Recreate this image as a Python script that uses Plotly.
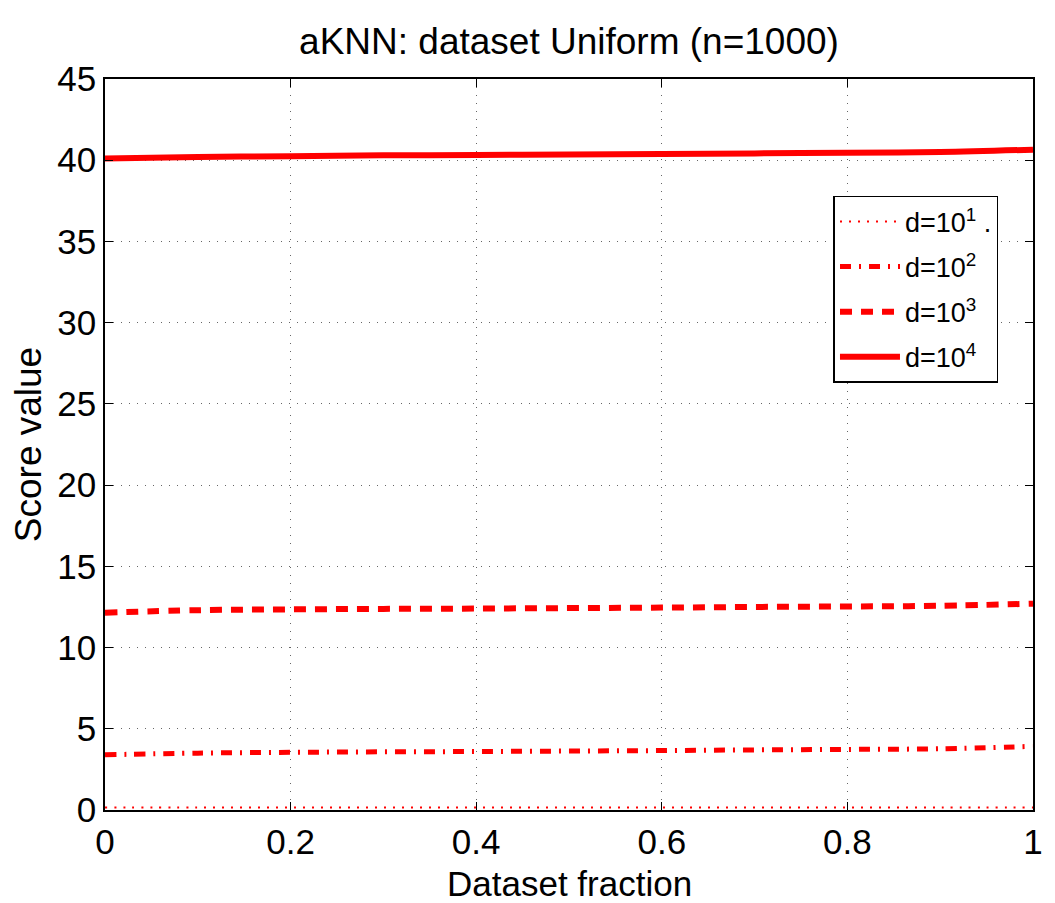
import plotly.graph_objects as go

x = [0.0, 0.1, 0.2, 0.3, 0.4, 0.5, 0.6, 0.7, 0.8, 0.9, 1.0]
d1 = [0.15, 0.15, 0.15, 0.15, 0.15, 0.15, 0.15, 0.15, 0.15, 0.15, 0.16]
d2 = [3.4, 3.5, 3.55, 3.58, 3.6, 3.63, 3.66, 3.7, 3.73, 3.77, 3.92]
d3 = [12.15, 12.3, 12.35, 12.38, 12.4, 12.43, 12.46, 12.5, 12.53, 12.57, 12.7]
d4 = [40.1, 40.2, 40.25, 40.3, 40.32, 40.35, 40.38, 40.42, 40.46, 40.5, 40.65]

names = ["d=10<sup>1</sup> .", "d=10<sup>2</sup>", "d=10<sup>3</sup>", "d=10<sup>4</sup>"]
series = [d1, d2, d3, d4]
styles = [
    dict(width=2, dash="2px,7px"),
    dict(width=5, dash="11px,8px,2px,8px"),
    dict(width=6, dash="12px,9px"),
    dict(width=6, dash="solid"),
]

fig = go.Figure()
for i, (n, s, st) in enumerate(zip(names, series, styles)):
    fig.add_trace(go.Scatter(x=x, y=s, mode="lines", name=n, legendgroup=f"g{i}",
                             line=dict(color="#ff0000", shape="spline", **st)))

font = "Liberation Sans, Arial, Helvetica, sans-serif"
axis_common = dict(
    showline=True, linecolor="black", linewidth=1.5, mirror="ticks",
    ticks="inside", ticklen=8, tickcolor="black", tickwidth=1.2,
    showgrid=True, gridcolor="#666666", griddash="1px,7px", gridwidth=1,
    zeroline=False, tickfont=dict(size=35, color="black", family=font),
)

fig.update_layout(
    width=1055, height=903,
    paper_bgcolor="white", plot_bgcolor="white",
    margin=dict(l=105, r=20, t=79, b=93),
    title=dict(text="aKNN: dataset Uniform (n=1000)", x=0.5, xref="paper", xanchor="center",
               y=0.955, yanchor="middle", font=dict(size=37, color="black", family=font)),
    xaxis=dict(range=[0, 1], dtick=0.2, tick0=0, **axis_common),
    yaxis=dict(range=[0, 45], dtick=5, tick0=0,
               title=dict(text="Score value", font=dict(size=37, color="black", family=font), standoff=4),
               **axis_common),
    legend=dict(x=0.785, y=0.84, xanchor="left", yanchor="top",
                bgcolor="white", bordercolor="black", borderwidth=1.5,
                font=dict(size=27, color="black", family=font),
                tracegroupgap=7, itemwidth=60),
    showlegend=True,
    annotations=[dict(text="Dataset fraction", x=0.5, xref="paper", y=-0.1, yref="paper",
                      xanchor="center", yanchor="middle", showarrow=False,
                      font=dict(size=35, color="black", family=font))],
)

fig.write_html("out.html")
